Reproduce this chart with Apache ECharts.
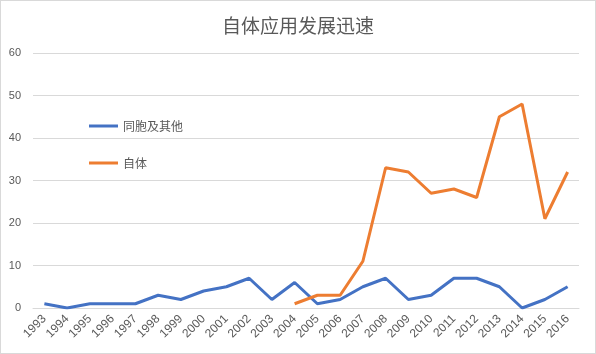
<!DOCTYPE html>
<html>
<head>
<meta charset="utf-8">
<script src="https://cdn.jsdelivr.net/npm/echarts@6/dist/echarts.min.js"></script>
<style>
  html, body { margin: 0; padding: 0; background: #fff; }
  #chart { width: 596px; height: 354px; box-sizing: border-box; border: 1px solid #d9d9d9; }
</style>
</head>
<body>
<div id="chart"></div>
<script>
var years = ['1993','1994','1995','1996','1997','1998','1999','2000','2001','2002','2003','2004',
             '2005','2006','2007','2008','2009','2010','2011','2012','2013','2014','2015','2016'];
// 同胞及其他
var siblingOther = [1,0,1,1,1,3,2,4,5,7,2,6,1,2,5,7,2,3,7,7,5,0,2,5];
// 自体 (data starts in 2004)
var autologous = [null,null,null,null,null,null,null,null,null,null,null,1,3,3,11,33,32,27,28,26,45,48,21,32];
var yTicks = { min: 0, max: 60, interval: 10 };

var myChart = echarts.init(document.getElementById('chart'));
var option = {
  title: {
    text: '自体应用发展迅速',
    left: 'center',
    top: 10,
    textStyle: { color: '#595959', fontSize: 19, fontWeight: 'normal', fontFamily: 'Noto Sans CJK SC' }
  },
  // 图例
  legend: {
    orient: 'vertical',
    left: 83,
    top: 114,
    itemGap: 25,
    itemWidth: 29,
    itemHeight: 3,
    textStyle: { color: '#595959', fontSize: 12, fontFamily: 'Noto Sans CJK SC' },
    data: [
      { name: '同胞及其他', icon: 'rect' },
      { name: '自体', icon: 'rect' }
    ]
  },
  grid: { left: 32, right: 16, top: 52, bottom: 45 },
  xAxis: {
    type: 'category',
    data: years,
    boundaryGap: true,
    axisLine: { lineStyle: { color: '#d9d9d9' } },
    axisTick: { show: false },
    axisLabel: { rotate: 45, color: '#595959', fontSize: 12, margin: 9, interval: 0, fontFamily: 'Liberation Sans' }
  },
  yAxis: {
    type: 'value',
    min: yTicks.min,
    max: yTicks.max,
    interval: yTicks.interval,
    axisLine: { show: false },
    axisTick: { show: false },
    splitLine: { lineStyle: { color: '#d9d9d9' } },
    axisLabel: { color: '#595959', fontSize: 11, margin: 12, fontFamily: 'Liberation Sans' }
  },
  series: [
    {
      name: '同胞及其他',
      type: 'line',
      data: siblingOther,
      symbol: 'none',
      lineStyle: { width: 3, color: '#4472C4' },
      itemStyle: { color: '#4472C4' }
    },
    {
      name: '自体',
      type: 'line',
      data: autologous,
      symbol: 'none',
      lineStyle: { width: 3, color: '#ED7D31' },
      itemStyle: { color: '#ED7D31' }
    }
  ],
  animation: false
};
myChart.setOption(option);
</script>
</body>
</html>
